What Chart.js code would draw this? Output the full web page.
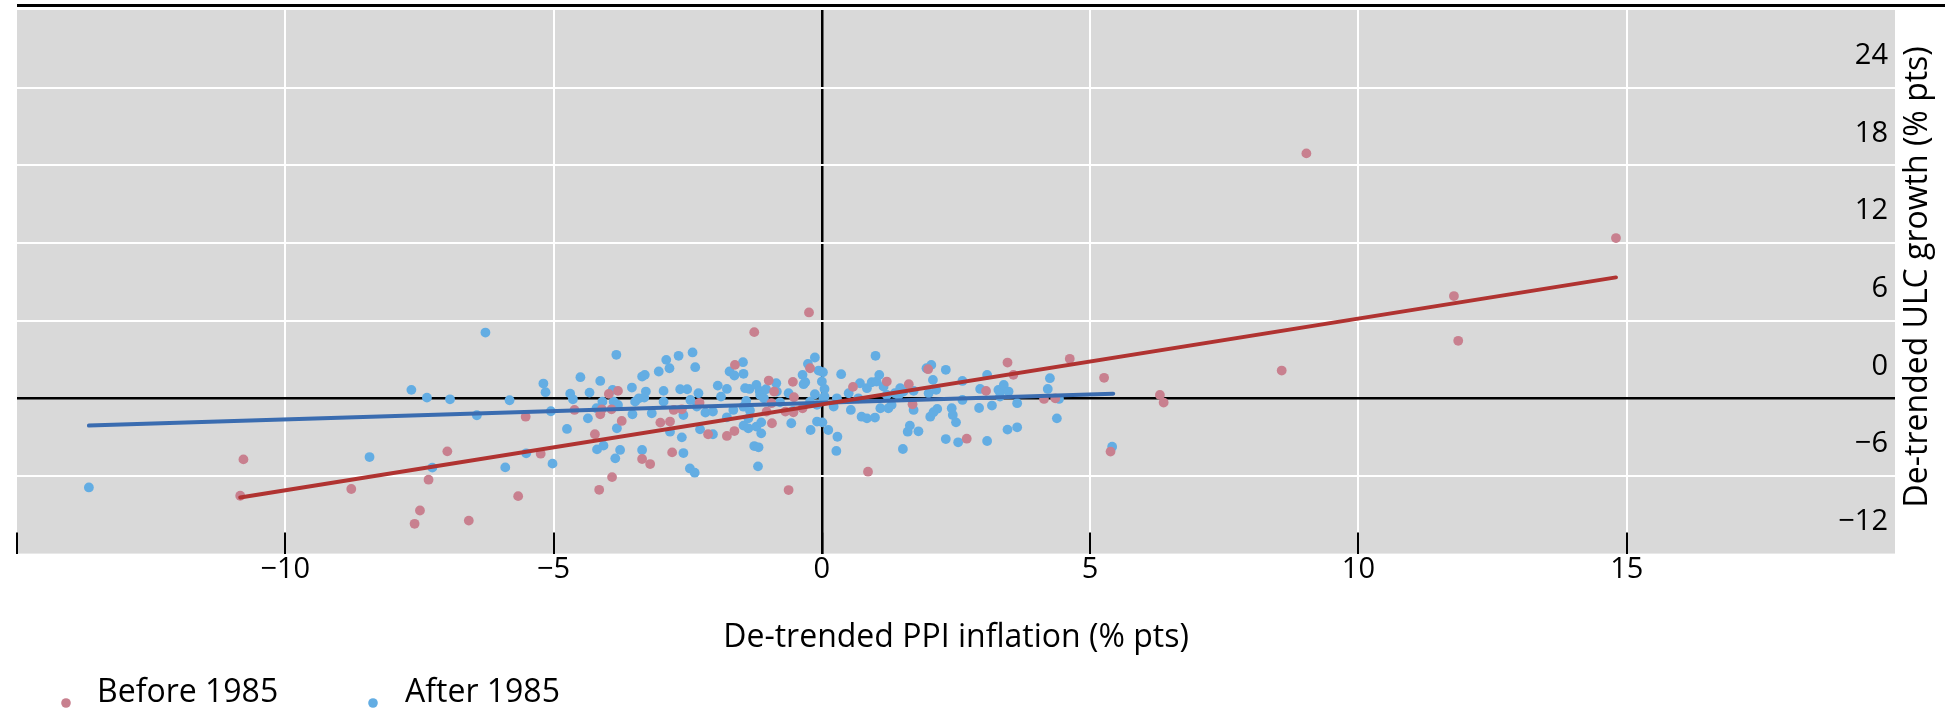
<!DOCTYPE html>
<html>
<head>
<meta charset="utf-8">
<title>De-trended PPI inflation vs ULC growth</title>
<script src="https://cdn.jsdelivr.net/npm/chart.js@4.4.1/dist/chart.umd.min.js"></script>
<style>
  html, body { margin: 0; padding: 0; background: #ffffff; }
  #wrap { width: 1945px; height: 709px; }
</style>
</head>
<body>
<div id="wrap"><canvas id="chart" width="1945" height="709"></canvas></div>
<script>
/* ---------- data ---------- */
const before1985 = [
  [-10.84, -7.53], [-10.78, -4.72], [-8.77, -7.01], [-7.59, -9.70], [-7.49, -8.67],
  [-7.33, -6.29], [-6.98, -4.10], [-6.58, -9.45], [-5.66, -7.56], [-5.52, -1.42],
  [-5.24, -4.28], [-4.61, -0.90], [-4.23, -2.78], [-4.15, -7.07], [-4.13, -1.24],
  [-4.10, -0.85], [-3.97, 0.34], [-3.92, -0.85], [-3.91, -6.09], [-3.80, 0.57],
  [-3.73, -1.75], [-3.35, -4.69], [-3.20, -5.08], [-3.01, -1.88], [-2.83, -1.80],
  [-2.79, -4.18], [-2.76, -0.90], [-2.61, -0.85], [-2.28, -0.35], [-2.12, -2.78],
  [-1.77, -2.91], [-1.63, -2.53], [-1.62, 2.58], [-1.26, 5.11], [-1.03, -1.03],
  [-0.99, 1.37], [-0.94, -0.38], [-0.93, -1.93], [-0.89, 0.52], [-0.68, -1.03],
  [-0.53, -1.08], [-0.62, -7.09], [-0.54, 1.27], [-0.52, 0.08], [-0.36, -0.77],
  [-0.24, 6.63], [-0.22, 2.32], [0.58, 0.88], [0.86, -5.67], [1.21, 1.29],
  [1.62, 1.09], [1.69, -0.46], [1.98, 2.25], [2.70, -3.12], [3.06, 0.57],
  [3.46, 2.76], [3.57, 1.81], [4.14, -0.05], [4.35, 0.00], [4.62, 3.05],
  [5.26, 1.58], [5.38, -4.12], [6.30, 0.26], [6.37, -0.33], [8.57, 2.14],
  [9.03, 18.92], [11.78, 7.90], [11.86, 4.44], [14.80, 12.38]
];

const after1985 = [
  [-13.66, -6.89], [-8.43, -4.54], [-7.65, 0.65], [-7.36, 0.05], [-7.26, -5.36],
  [-6.93, -0.08], [-6.43, -1.31], [-6.27, 5.08], [-5.90, -5.34], [-5.82, -0.15],
  [-5.51, -4.25], [-5.19, 1.14], [-5.15, 0.47], [-5.05, -1.00], [-5.02, -5.05],
  [-4.75, -2.37], [-4.69, 0.36], [-4.64, -0.08], [-4.50, 1.63], [-4.36, -1.55],
  [-4.33, 0.44], [-4.20, -0.77], [-4.19, -3.95], [-4.13, 1.34], [-4.09, -0.26],
  [-4.07, -3.66], [-3.90, 0.65], [-3.88, -0.26], [-3.85, -4.64], [-3.83, 3.36],
  [-3.82, -2.32], [-3.80, -0.51], [-3.76, -3.99], [-3.54, 0.83], [-3.53, -1.24],
  [-3.48, -0.26], [-3.41, 0.00], [-3.35, 1.68], [-3.35, -3.99], [-3.31, 0.05],
  [-3.30, 1.81], [-3.28, 0.52], [-3.17, -1.16], [-3.04, 2.07], [-2.95, 0.57],
  [-2.95, -0.26], [-2.90, 2.97], [-2.84, 2.32], [-2.83, -2.58], [-2.67, 3.28],
  [-2.64, 0.70], [-2.61, -3.02], [-2.58, -1.29], [-2.58, -4.23], [-2.51, 0.70],
  [-2.46, -5.42], [-2.45, -0.13], [-2.41, 3.54], [-2.37, -5.75], [-2.36, 2.40],
  [-2.33, -0.64], [-2.30, 0.39], [-2.27, -2.40], [-2.17, -1.11], [-2.03, -1.03],
  [-2.03, -2.78], [-1.94, 0.98], [-1.88, 0.13], [-1.77, 0.72], [-1.77, -1.47],
  [-1.72, 2.07], [-1.65, -0.90], [-1.63, 1.76], [-1.47, 2.79], [-1.46, 1.89],
  [-1.46, -2.11], [-1.46, -0.65], [-1.43, 0.78], [-1.41, -0.20], [-1.37, -2.32],
  [-1.37, -1.55], [-1.35, 0.72], [-1.34, -0.95], [-1.26, -3.69], [-1.22, 1.03],
  [-1.22, -2.19], [-1.19, -5.26], [-1.18, -3.79], [-1.16, 0.57], [-1.15, 0.26],
  [-1.13, -1.86], [-1.13, -2.71], [-1.08, 0.00], [-1.04, 0.70], [-0.85, 1.16],
  [-0.84, 0.52], [-0.78, -0.31], [-0.62, 0.39], [-0.57, -1.93], [-0.54, -0.98],
  [-0.36, 1.81], [-0.34, 1.09], [-0.31, 1.24], [-0.26, 2.66], [-0.22, -0.26],
  [-0.21, -2.45], [-0.13, 3.15], [-0.13, 0.31], [-0.09, -1.80], [-0.09, -0.51],
  [-0.06, 2.14], [0.00, 1.29], [0.01, -1.86], [0.02, 2.01], [0.03, 0.00],
  [0.05, 0.72], [0.05, 0.13], [0.12, -2.45], [0.22, -0.64], [0.27, -4.07],
  [0.28, 0.00], [0.29, -2.97], [0.36, 1.86], [0.50, 0.39], [0.54, -0.90],
  [0.68, 0.00], [0.71, 1.16], [0.74, -1.42], [0.84, 0.78], [0.84, -1.55],
  [0.93, 1.24], [0.99, -1.49], [1.00, 3.28], [1.02, 1.29], [1.07, 1.81],
  [1.09, -0.77], [1.15, 0.90], [1.21, 0.26], [1.24, -0.77], [1.30, -0.51],
  [1.36, 0.39], [1.43, 0.26], [1.46, 0.78], [1.51, -3.92], [1.52, 0.52],
  [1.60, -2.58], [1.64, -2.11], [1.71, -0.90], [1.71, 0.57], [1.80, -2.55],
  [1.95, 2.32], [1.99, 0.39], [2.02, -1.42], [2.04, 2.58], [2.07, 1.42],
  [2.08, -1.08], [2.13, 0.65], [2.15, -0.82], [2.31, 2.20], [2.31, -3.15],
  [2.42, -0.77], [2.44, -1.29], [2.50, -1.86], [2.54, -3.40], [2.62, 1.34],
  [2.62, -0.13], [2.93, -0.75], [2.95, 0.72], [3.08, 1.81], [3.08, -3.30],
  [3.17, -0.56], [3.29, 0.65], [3.32, 0.13], [3.33, 0.57], [3.39, 1.03],
  [3.46, -2.42], [3.48, 0.52], [3.64, -0.38], [3.64, -2.24], [4.21, 0.72],
  [4.25, 1.55], [4.38, -1.55], [4.42, -0.05], [5.41, -3.74]
];

// fitted lines, end points as drawn
const trendBefore = [[-10.84, -7.66], [14.80, 9.34]];
const trendAfter = [[-13.66, -2.11], [5.43, 0.36]];

const seriesNames = ['Before 1985', 'After 1985'];

const xTickValues = [-15, -10, -5, 0, 5, 10, 15, 20];
const xTickLabels = ['', '\u221210', '\u22125', '0', '5', '10', '15', ''];
const yTickValues = [-12, -6, 0, 6, 12, 18, 24, 30];
const yTickLabels = ['\u221212', '\u22126', '0', '6', '12', '18', '24', ''];

const xTitle = 'De-trended PPI inflation (% pts)';
const yTitle = 'De-trended ULC growth (% pts)';

/* ---------- look ---------- */
const colors = {
  before: '#c8808f',
  after: '#63ade3',
  lineBefore: '#b03331',
  lineAfter: '#3a6cb0',
  plot: '#d9d9d9',
  grid: '#ffffff',
  ink: '#000000'
};
const FONT = '"Open Sans", "Noto Sans", sans-serif';

Chart.defaults.font.family = FONT;
Chart.defaults.color = colors.ink;

const toXY = pts => pts.map(([x, y]) => ({ x, y }));

// grid colour: black at zero, nothing on the frame edges, white otherwise
const gridColor = (min, max) => c => {
  const v = c.tick.value;
  if (v === 0) return colors.ink;
  if (v === min || v === max) return 'rgba(0,0,0,0)';
  return colors.grid;
};

/* ---------- extras: plot background, top rule, y title, legend ---------- */
const framePlugin = {
  id: 'frame',
  beforeDraw(chart) {
    const { ctx, chartArea: a } = chart;
    ctx.save();
    ctx.fillStyle = colors.plot;
    ctx.fillRect(a.left, a.top, a.right - a.left, a.bottom - a.top);
    ctx.restore();
  },
  afterDraw(chart) {
    const { ctx, chartArea: a, width } = chart;
    ctx.save();

    // heavy rule across the top
    ctx.fillStyle = colors.ink;
    ctx.fillRect(a.left, a.top - 6, width - a.left, 3);

    // y title on the right, read bottom to top
    ctx.font = '32px ' + FONT;
    ctx.textAlign = 'center';
    ctx.textBaseline = 'middle';
    ctx.save();
    ctx.translate(a.right + 23, (a.top + a.bottom) / 2 - 5);
    ctx.rotate(-Math.PI / 2);
    ctx.fillText(yTitle, 0, 0);
    ctx.restore();

    // legend at bottom left
    const spots = [{ dot: 66, text: 97 }, { dot: 373, text: 405 }];
    ctx.textAlign = 'left';
    ctx.textBaseline = 'alphabetic';
    [2, 3].forEach((di, i) => {
      const ds = chart.data.datasets[di];
      ctx.fillStyle = ds.backgroundColor;
      ctx.beginPath();
      ctx.arc(spots[i].dot, 703, 4.8, 0, Math.PI * 2);
      ctx.fill();
      ctx.fillStyle = colors.ink;
      ctx.fillText(ds.label, spots[i].text, 702);
    });
    ctx.restore();
  }
};

/* ---------- chart ---------- */
new Chart(document.getElementById('chart'), {
  type: 'scatter',
  data: {
    datasets: [
      {
        label: 'Before 1985 fit',
        data: toXY(trendBefore),
        showLine: true,
        borderColor: colors.lineBefore,
        borderWidth: 4,
        borderCapStyle: 'round',
        pointRadius: 0
      },
      {
        label: 'After 1985 fit',
        data: toXY(trendAfter),
        showLine: true,
        borderColor: colors.lineAfter,
        borderWidth: 4,
        borderCapStyle: 'round',
        pointRadius: 0
      },
      {
        label: seriesNames[0],
        data: toXY(before1985),
        backgroundColor: colors.before,
        pointRadius: 4.9,
        pointBorderWidth: 0
      },
      {
        label: seriesNames[1],
        data: toXY(after1985),
        backgroundColor: colors.after,
        pointRadius: 4.9,
        pointBorderWidth: 0
      }
    ]
  },
  options: {
    responsive: false,
    animation: false,
    layout: { padding: { left: 17, right: 50, top: 10, bottom: 52 } },
    plugins: {
      legend: { display: false },
      tooltip: { enabled: false }
    },
    scales: {
      x: {
        type: 'linear',
        min: -15,
        max: 20,
        afterBuildTicks: s => { s.ticks = xTickValues.map(v => ({ value: v })); },
        ticks: {
          callback: (v, i) => xTickLabels[i],
          font: { size: 29, lineHeight: 2 },
          padding: 8,
          maxRotation: 0,
          autoSkip: false
        },
        grid: {
          color: gridColor(-15, 20),
          lineWidth: c => (c.tick.value === 0 ? 2.5 : 2),
          drawTicks: true,
          tickLength: -21,
          tickWidth: 2,
          tickColor: c => (c.tick.value === 20 ? 'rgba(0,0,0,0)' : colors.ink)
        },
        border: { display: false },
        title: {
          display: true,
          text: xTitle,
          font: { size: 32 },
          padding: { top: 12, bottom: 0 }
        }
      },
      y: {
        type: 'linear',
        position: 'right',
        min: -12,
        max: 30,
        afterBuildTicks: s => { s.ticks = yTickValues.map(v => ({ value: v })); },
        ticks: {
          callback: (v, i) => yTickLabels[i],
          mirror: true,
          padding: -7,
          labelOffset: -32,
          font: { size: 29, lineHeight: 1 }
        },
        grid: {
          color: gridColor(-12, 30),
          lineWidth: c => (c.tick.value === 0 ? 2.5 : 2),
          drawTicks: false
        },
        border: { display: false }
      }
    }
  },
  plugins: [framePlugin]
});
</script>
</body>
</html>
